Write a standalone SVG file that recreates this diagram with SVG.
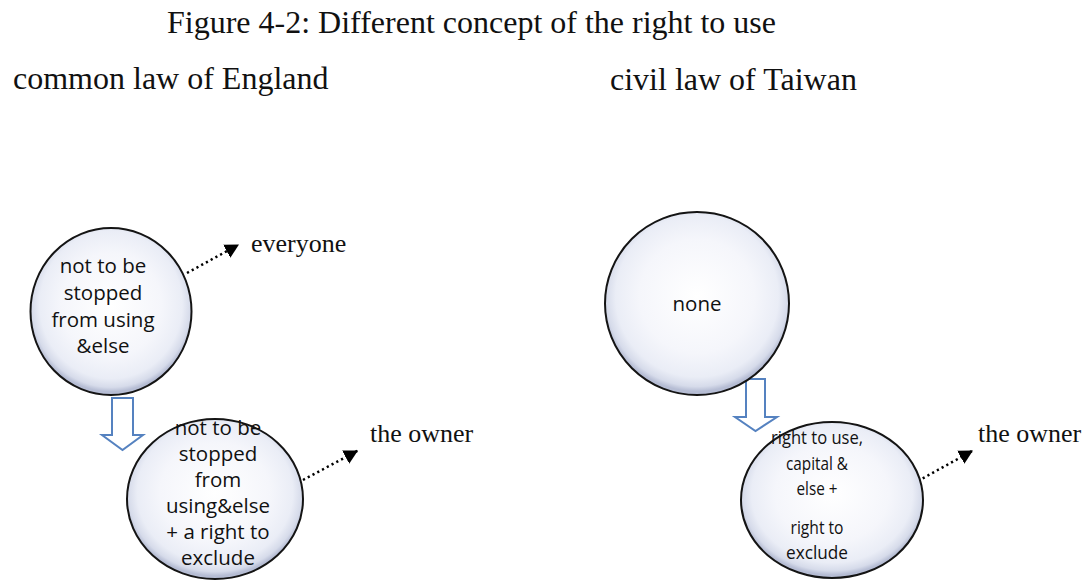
<svg xmlns="http://www.w3.org/2000/svg" width="1091" height="580" viewBox="0 0 1091 580">
<style>
.ttl{font-family:"Liberation Serif","Times New Roman",serif;font-size:32px;fill:#111}
.lbl{font-family:"Liberation Serif","Times New Roman",serif;font-size:26px;fill:#111}
.in{font-family:"Open Sans","Noto Sans",sans-serif;font-size:20.5px;fill:#111;text-anchor:middle}
.in2{font-family:"Open Sans","Noto Sans",sans-serif;font-size:18.5px;fill:#111;text-anchor:middle}
.bub{fill:url(#bg);stroke:#141414;stroke-width:2}
.blk{fill:#fff;stroke:#5582c0;stroke-width:2;stroke-linejoin:miter}
.dot{stroke:#000;stroke-width:2.5;stroke-dasharray:2.2 3.2;fill:none;marker-end:url(#ah)}
</style>
<defs>
<radialGradient id="bg" cx="50%" cy="46%" r="52%">
<stop offset="0" stop-color="#ffffff"/>
<stop offset="0.6" stop-color="#f5f6fb"/>
<stop offset="0.85" stop-color="#eaedf6"/>
<stop offset="0.95" stop-color="#d6dbea"/>
<stop offset="1" stop-color="#b6bdd4"/>
</radialGradient>
<marker id="ah" markerUnits="userSpaceOnUse" markerWidth="16" markerHeight="16" refX="14" refY="7.5" orient="auto">
<path d="M0,0 L14,7.5 L0,15 z" fill="#000"/>
</marker>
</defs>
<rect width="1091" height="580" fill="#fff"/>
<text class="ttl" x="167" y="33">Figure 4-2: Different concept of the right to use</text>
<text class="ttl" x="13" y="89">common law of England</text>
<text class="ttl" x="610" y="90">civil law of Taiwan</text>

<g id="connectors">
<polygon class="blk" points="112,398 133,398 133,435 143,435 122.5,450 102,435 112,435"/>
<polygon class="blk" points="746,379 765,379 765,417 777,417 755.5,431 735,417 746,417"/>
<line class="dot" x1="187" y1="273" x2="239" y2="244.5"/>
<line class="dot" x1="303" y1="480" x2="358" y2="450.5"/>
<line class="dot" x1="918" y1="481" x2="973" y2="450.5"/>
</g>

<g id="n1">
<ellipse class="bub" cx="111" cy="311.5" rx="80.5" ry="83.5"/>
<text class="in" x="103" y="273">not to be</text>
<text class="in" x="103" y="300">stopped</text>
<text class="in" x="103" y="327">from using</text>
<text class="in" x="103" y="353">&amp;else</text>
</g>
<g id="n2">
<ellipse class="bub" cx="215" cy="499" rx="88" ry="80"/>
<text class="in" x="218" y="435">not to be</text>
<text class="in" x="218" y="461">stopped</text>
<text class="in" x="218" y="487">from</text>
<text class="in" x="218" y="513">using&amp;else</text>
<text class="in" x="218" y="539">+ a right to</text>
<text class="in" x="218" y="565">exclude</text>
</g>
<g id="n3">
<ellipse class="bub" cx="697" cy="303.5" rx="92" ry="91.5"/>
<text class="in" x="697" y="311">none</text>
</g>
<g id="n4">
<ellipse class="bub" cx="832" cy="500" rx="91" ry="78"/>
<text class="in2" x="817" y="444" textLength="92" lengthAdjust="spacingAndGlyphs">right to use,</text>
<text class="in2" x="817" y="469.5" textLength="62" lengthAdjust="spacingAndGlyphs">capital &amp;</text>
<text class="in2" x="817" y="495" textLength="41" lengthAdjust="spacingAndGlyphs">else +</text>
<text class="in2" x="817" y="534" textLength="53" lengthAdjust="spacingAndGlyphs">right to</text>
<text class="in2" x="817" y="559" textLength="62" lengthAdjust="spacingAndGlyphs">exclude</text>
</g>
<g id="labels">
<text class="lbl" x="251" y="252">everyone</text>
<text class="lbl" x="370" y="442">the owner</text>
<text class="lbl" x="978" y="442">the owner</text>
</g>
</svg>
